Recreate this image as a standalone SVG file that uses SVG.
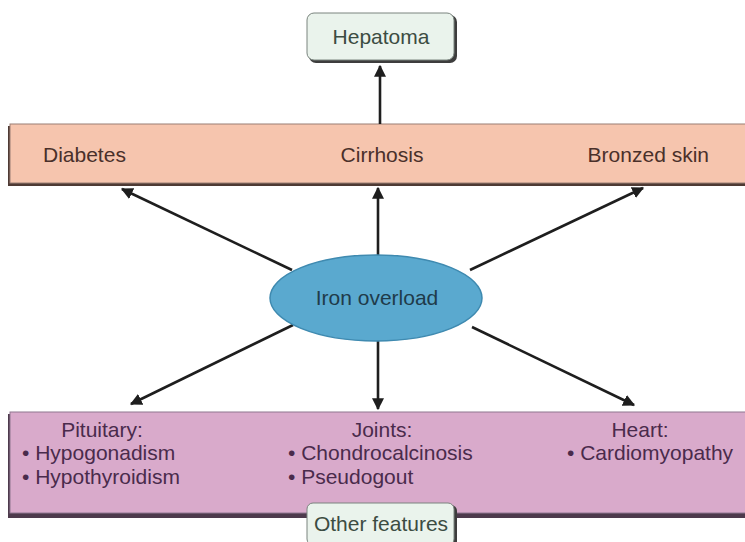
<svg xmlns="http://www.w3.org/2000/svg" width="745" height="542" viewBox="0 0 745 542">
  <style>
    .lbl { font-family: "Liberation Sans", Arial, sans-serif; font-size: 21px; }
    .top { fill: #4a302a; }
    .bot { fill: #4a2b4c; }
    .mint { fill: #3c4c42; }
    .conn { stroke: #1e1e1e; stroke-width: 2.6; fill: none; marker-end: url(#head); }
  </style>
  <defs>
    <marker id="head" viewBox="0 0 10 10" refX="9" refY="5" markerWidth="4.6" markerHeight="4.6" orient="auto" markerUnits="strokeWidth">
      <path d="M0,0 L10,5 L0,10 z" fill="#1e1e1e"/>
    </marker>
  </defs>
  <rect width="745" height="542" fill="#ffffff"/>

  <!-- top band of outcomes -->
  <g id="top-band">
    <rect x="8" y="126" width="740" height="60" fill="#4e3a34"/>
    <rect x="10" y="124" width="740" height="59" fill="#f6c5ae" stroke="#9a7f74" stroke-width="1"/>
    <text class="lbl top" x="43" y="162">Diabetes</text>
    <text class="lbl top" x="382" y="162" text-anchor="middle">Cirrhosis</text>
    <text class="lbl top" x="709" y="162" text-anchor="end">Bronzed skin</text>
  </g>

  <!-- hepatoma box -->
  <g id="hepatoma">
    <rect x="309" y="15" width="148" height="48" rx="7" fill="#3d3d3d"/>
    <rect x="307" y="13" width="147" height="47" rx="7" fill="#eaf3ec" stroke="#7a847e" stroke-width="1"/>
    <text class="lbl mint" x="381" y="44" text-anchor="middle">Hepatoma</text>
  </g>

  <!-- bottom band of other features -->
  <g id="bottom-band">
    <rect x="8" y="414" width="740" height="104" fill="#4d3a4c"/>
    <rect x="10" y="412" width="740" height="101" fill="#d9aacb" stroke="#8f7790" stroke-width="1"/>
    <text class="lbl bot" x="102" y="437" text-anchor="middle">Pituitary:</text>
    <text class="lbl bot" x="22" y="460">• Hypogonadism</text>
    <text class="lbl bot" x="22" y="484">• Hypothyroidism</text>
    <text class="lbl bot" x="382" y="437" text-anchor="middle">Joints:</text>
    <text class="lbl bot" x="288" y="460">• Chondrocalcinosis</text>
    <text class="lbl bot" x="288" y="484">• Pseudogout</text>
    <text class="lbl bot" x="640" y="437" text-anchor="middle">Heart:</text>
    <text class="lbl bot" x="567" y="460">• Cardiomyopathy</text>
  </g>

  <!-- other features label -->
  <g id="other-features">
    <rect x="309" y="505" width="148" height="42" rx="6" fill="#3d3d3d"/>
    <rect x="307" y="503" width="147" height="42" rx="6" fill="#eaf3ec" stroke="#7a847e" stroke-width="1"/>
    <text class="lbl mint" x="381" y="531" text-anchor="middle">Other features</text>
  </g>

  <!-- connectors -->
  <g id="connectors">
    <line class="conn" x1="380" y1="124" x2="380" y2="66"/>
    <line class="conn" x1="378" y1="256" x2="378" y2="188"/>
    <line class="conn" x1="292" y1="270" x2="122" y2="189"/>
    <line class="conn" x1="470" y1="270" x2="643" y2="188"/>
    <line class="conn" x1="293" y1="325" x2="131" y2="404"/>
    <line class="conn" x1="378" y1="340" x2="378" y2="409"/>
    <line class="conn" x1="472" y1="327" x2="634" y2="405"/>
  </g>

  <!-- central node -->
  <g id="iron-overload">
    <ellipse cx="376" cy="298" rx="106" ry="43" fill="#5aa9cf" stroke="#3f8ab0" stroke-width="1.5"/>
    <text class="lbl" x="377" y="305" text-anchor="middle" fill="#1f3b4a">Iron overload</text>
  </g>
</svg>
